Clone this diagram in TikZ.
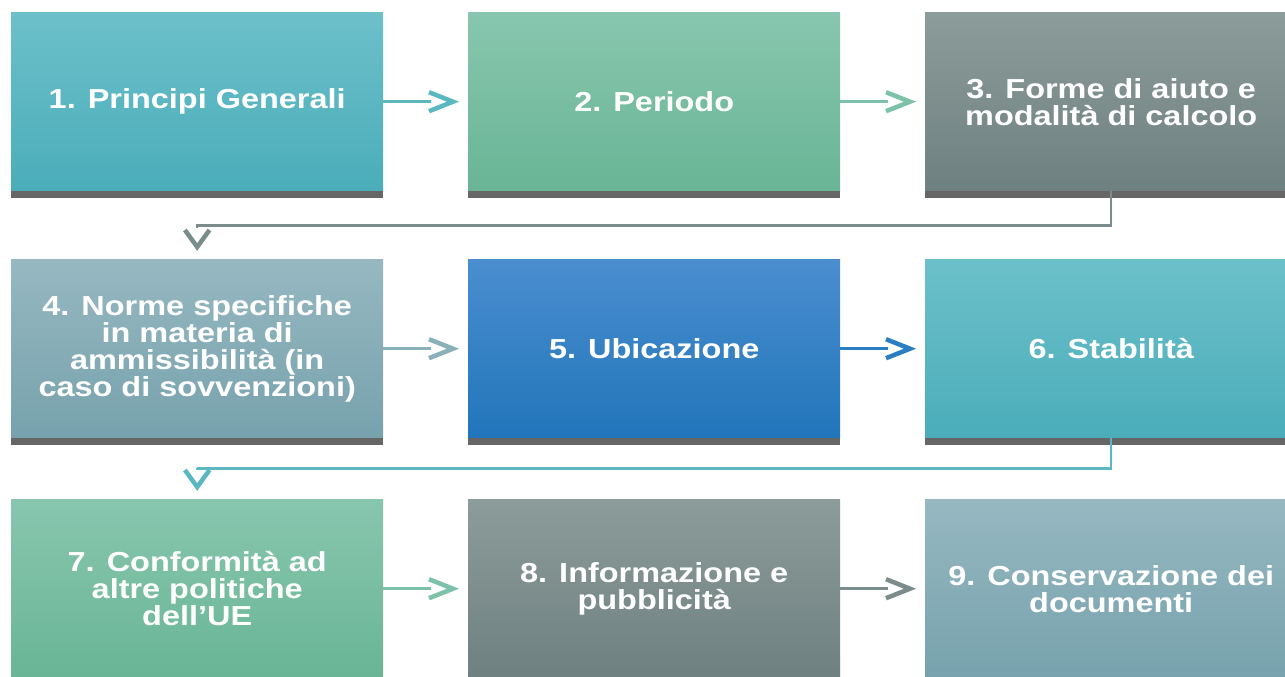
\documentclass[tikz,border=0pt]{standalone}
\usepackage{fontspec}
\setmainfont{Liberation Sans}[FakeStretch=1.18]
\usetikzlibrary{decorations.markings}
\definecolor{tealA}{HTML}{6CC0CA}\definecolor{tealB}{HTML}{4AADB9}
\definecolor{greenA}{HTML}{88C6AF}\definecolor{greenB}{HTML}{69B596}
\definecolor{grayA}{HTML}{8C9C9A}\definecolor{grayB}{HTML}{6E8080}
\definecolor{slateA}{HTML}{96B8C1}\definecolor{slateB}{HTML}{77A2AD}
\definecolor{blueA}{HTML}{4A8ECF}\definecolor{blueB}{HTML}{2175BA}
\definecolor{barcol}{HTML}{666666}
\definecolor{cTeal}{HTML}{5BB8C3}
\definecolor{cGreen}{HTML}{7CC2A8}
\definecolor{cSlate}{HTML}{8AB1BA}
\definecolor{cBlue}{HTML}{2B7EC1}
\definecolor{cGray}{HTML}{7A8C8B}
\begin{document}
\begin{tikzpicture}[x=1pt,y=-1pt,
  card/.style 2 args={rectangle, anchor=north west, minimum width=372pt,
    minimum height=179pt, inner sep=0pt, top color=#1, bottom color=#2,
    draw=none, text=white, align=center,
    font=\bfseries\fontsize{27.5}{27}\selectfont},
  bar/.style={fill=barcol},
  conn/.style={color=#1, line width=2.5pt},
  hchev/.style={shorten >=37pt, postaction={decorate},
    decoration={markings, mark=at position -15pt with {\draw[line width=4.5pt,
      line join=miter, line cap=butt, shorten >=0pt, shorten <=0pt]
      (-24pt,-9.5pt) -- (0pt,0pt) -- (-24pt,9.5pt);}}},
  vchev/.style={shorten >=31pt, postaction={decorate},
    decoration={markings, mark=at position -12pt with {\draw[line width=4.5pt,
      line join=miter, line cap=butt, shorten >=0pt, shorten <=0pt]
      (-17pt,-12.3pt) -- (0pt,0pt) -- (-17pt,12.3pt);}}}
]
\useasboundingbox (0,0) rectangle (1285,677);
\clip (0,0) rectangle (1285,677);
% row 1
\node[card={tealA}{tealB}]   (b1) at (11,12)  {1. Principi Generali};
\node[card={greenA}{greenB}] (b2) at (468,12) {2. Periodo};
\node[card={grayA}{grayB}]   (b3) at (925,12) {3. Forme di aiuto e\\modalità di calcolo};
% row 2
\node[card={slateA}{slateB}] (b4) at (11,259)  {4. Norme specifiche\\in materia di\\ammissibilità (in\\caso di sovvenzioni)};
\node[card={blueA}{blueB}]   (b5) at (468,259) {5. Ubicazione};
\node[card={tealA}{tealB}]   (b6) at (925,259) {6. Stabilità};
% row 3
\node[card={greenA}{greenB}] (b7) at (11,499)  {7. Conformità ad\\altre politiche\\dell’UE};
\node[card={grayA}{grayB}]   (b8) at (468,499) {8. Informazione e\\pubblicità};
\node[card={slateA}{slateB}] (b9) at (925,499) {9. Conservazione dei\\documenti};
% bottom bars
\foreach \b in {b1,b2,b3,b4,b5,b6,b7,b8,b9}
  \fill[bar] (\b.south west) rectangle ++(372,7);
% connectors
\draw[conn=cTeal, hchev]  (b1.east) -- (b2.west);
\draw[conn=cGreen, hchev] (b2.east) -- (b3.west);
\draw[conn=cGray, vchev]  (b3.south) -- ++(0,34) -| (b4.north);
\draw[conn=cSlate, hchev] (b4.east) -- (b5.west);
\draw[conn=cBlue, hchev]  (b5.east) -- (b6.west);
\draw[conn=cTeal, vchev]  (b6.south) -- ++(0,30) -| (b7.north);
\draw[conn=cGreen, hchev] (b7.east) -- (b8.west);
\draw[conn=cGray, hchev]  (b8.east) -- (b9.west);
\end{tikzpicture}
\end{document}
